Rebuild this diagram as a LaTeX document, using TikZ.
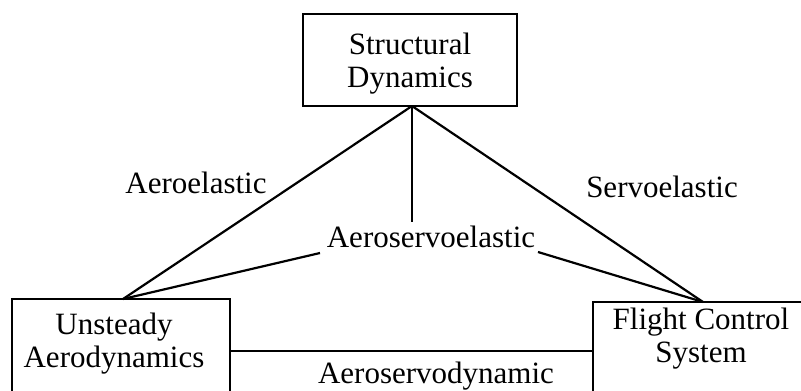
\documentclass[tikz,border=0pt]{standalone}
\usepackage{fontspec}
\setmainfont{Liberation Serif}
\begin{document}
\begin{tikzpicture}[x=1pt,y=1pt,
  boxline/.style={draw=black,line width=2.4pt},
  conn/.style={draw=black,line width=2.2pt},
  txt/.style={inner sep=0pt,align=center,font=\fontsize{31}{33}\selectfont},
  lbl/.style={inner sep=0pt,anchor=base,font=\fontsize{31}{33}\selectfont}]
\useasboundingbox (0,0) rectangle (801,-391);
\clip (0,0) rectangle (801,-391);
% boxes
\draw[boxline] (303,-14) rectangle (517,-106);
\draw[boxline] (12,-299) rectangle (230,-420);
\draw[boxline] (593,-302) rectangle (830,-420);
% box texts
\node[txt] (sd) at (410,-64) {Structural\\Dynamics};
\node[txt] (ua) at (114,-344) {Unsteady\\Aerodynamics};
\node[txt] (fc) at (701,-339) {Flight Control\\System};
% labels
\node[lbl] (ae) at (196,-193) {Aeroelastic};
\node[lbl] (se) at (662,-197) {Servoelastic};
\node[lbl] (ase) at (431,-247) {Aeroservoelastic};
\node[lbl] (asd) at (436,-383) {Aeroservodynamic};
% connection points
\coordinate (T) at (412,-106);
\coordinate (L) at (123,-299);
\coordinate (R) at (703,-302);
\coordinate (aseT) at (412,-222);
\coordinate (aseL) at (320,-253);
\coordinate (aseR) at (538,-252);
\coordinate (uaR) at (230,-351);
\coordinate (fcL) at (593,-351);
% connectors
\draw[conn] (T) -- (L);
\draw[conn] (T) -- (R);
\draw[conn] (T) -- (aseT);
\draw[conn] (aseL) -- (L);
\draw[conn] (aseR) -- (R);
\draw[conn] (uaR) -- (fcL);
\end{tikzpicture}
\end{document}
